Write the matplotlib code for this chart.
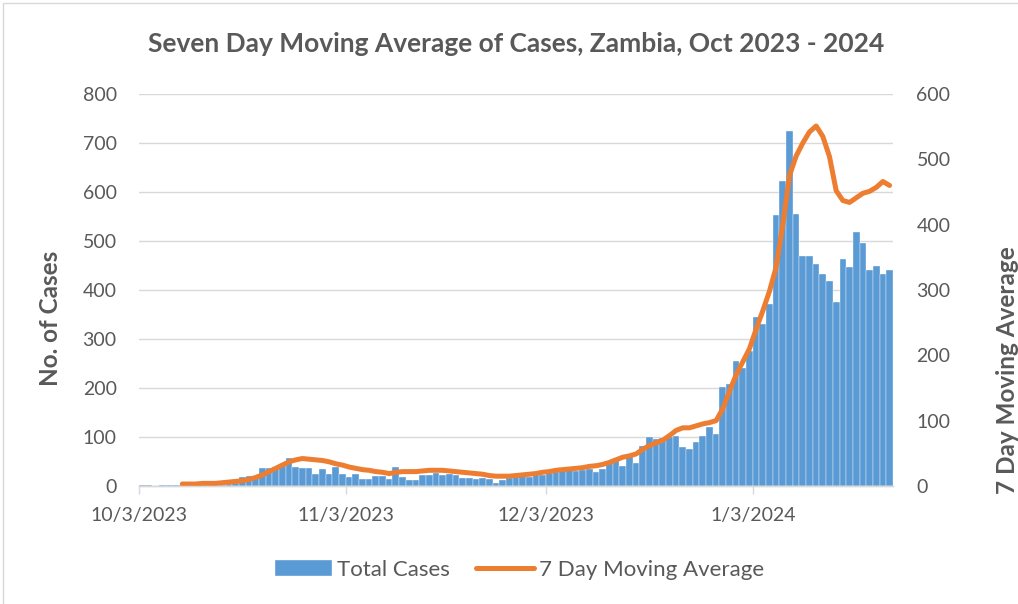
import matplotlib
matplotlib.use("Agg")
import matplotlib.pyplot as plt
import matplotlib.patches as mpatches
import pandas as pd

# colours (Excel default theme)
BLUE = '#5B9BD5'
ORANGE = '#ED7D31'
TEXT = '#595959'
GRID = '#D9D9D9'

plt.rcParams['font.family'] = ['Lato', 'DejaVu Sans']

# daily data, 10/3/2023 .. 1/23/2024
start_date = '2023-10-03'
n_days = 113

total_cases = [
    1, 1, 0, 2, 1, 2, 1, 2, 2, 1, 2, 2, 3, 4, 6,
    18, 20, 20, 37, 37, 38, 40, 58, 39, 36, 36, 24, 34, 24, 38,
    24, 18, 24, 14, 14, 20, 20, 14, 38, 19, 12, 12, 22, 22, 26,
    22, 24, 22, 17, 17, 14, 16, 15, 7, 12, 16, 18, 20, 18, 24,
    22, 26, 28, 30, 32, 30, 33, 34, 28, 35, 46, 58, 41, 60, 46,
    82, 99, 95, 98, 100, 102, 80, 75, 90, 103, 121, 106, 201, 208, 255,
    240, 275, 344, 330, 371, 554, 622, 725, 556, 469, 469, 453, 433, 419, 375,
    463, 447, 518, 495, 440, 449, 433, 440,
]

# 7 day moving average, first value on day 7 (10/9/2023)
ma_offset = 6
moving_avg = [
    3, 3, 3, 4, 4, 4, 5, 6, 7,
    8, 10, 13, 17, 22, 27, 32, 37, 40, 42, 41, 40, 39, 37, 34, 32,
    29, 27, 25, 24, 22, 21, 19, 21, 22, 22, 22, 23, 24, 24, 24, 23,
    22, 21, 20, 19, 18, 16, 15, 15, 15, 16, 17, 18, 19, 21, 22, 24,
    25, 26, 27, 28, 30, 31, 33, 36, 40, 44, 46, 49, 56, 62, 66, 70,
    77, 85, 89, 89, 92, 95, 97, 100, 118, 145, 170, 190, 210, 240,
    268, 298, 335, 400, 475, 505, 525, 542, 551, 535, 504, 452, 437,
    434, 441, 448, 451, 457, 466, 460,
]

tick_dates = ['2023-10-03', '2023-11-03', '2023-12-03', '2024-01-03']
left_ticks = list(range(0, 801, 100))
right_ticks = list(range(0, 601, 100))

dates = pd.date_range(start_date, periods=n_days, freq='D')
ma_dates = dates[ma_offset:] + pd.Timedelta(hours=12)

fig = plt.figure(figsize=(10.18, 6.04), dpi=100, facecolor='white')
ax1 = fig.add_axes([0.1365, 0.1954, 0.7406, 0.649])
ax2 = ax1.twinx()

ax1.bar(dates, total_cases, width=1.0, align='edge', color=BLUE,
        edgecolor='white', linewidth=0.25, zorder=2, label='Total Cases')
ax2.plot(ma_dates, moving_avg, color=ORANGE, linewidth=3.6,
         solid_capstyle='round', solid_joinstyle='round',
         label='7 Day Moving Average')

ax1.set_xlim(dates[0], dates[-1] + pd.Timedelta(days=1))
ax1.set_ylim(0, 800)
ax2.set_ylim(0, 600)
ax1.set_yticks(left_ticks)
ax2.set_yticks(right_ticks)

xt = pd.to_datetime(tick_dates)
ax1.set_xticks(xt)
ax1.set_xticklabels([f'{d.month}/{d.day}/{d.year}' for d in xt])

ax1.grid(axis='y', color=GRID, linewidth=1.0, zorder=0)
ax1.set_axisbelow(True)

for ax in (ax1, ax2):
    for side in ('top', 'left', 'right'):
        ax.spines[side].set_visible(False)
    ax.spines['bottom'].set_color(GRID)
    ax.spines['bottom'].set_linewidth(1.0)
    ax.tick_params(axis='y', length=0, labelsize=14, labelcolor=TEXT)

ax1.tick_params(axis='y', pad=16)
ax2.tick_params(axis='y', pad=17)
ax1.tick_params(axis='x', length=6, width=1, color=GRID,
                labelsize=14, labelcolor=TEXT, pad=9)

# axis titles
fig.text(50 / 1018, 1 - 318 / 604, 'No. of Cases', rotation=90,
         ha='center', va='center', fontsize=17.5, fontweight='bold', color=TEXT)
fig.text(996 / 1018, 1 - 370 / 604, '7 Day Moving Average', rotation=90,
         ha='left', va='center', fontsize=17.5, fontweight='bold', color=TEXT)

fig.text(0.507, 1 - 44 / 604, 'Seven Day Moving Average of Cases, Zambia, Oct 2023 - 2024',
         ha='center', va='center', fontsize=19, fontweight='bold', color=TEXT)

h1, l1 = ax1.get_legend_handles_labels()
h2, l2 = ax2.get_legend_handles_labels()
fig.legend(h1 + h2, l1 + l2, loc='center', bbox_to_anchor=(0.51, 1 - 570 / 604),
           ncol=2, frameon=False, fontsize=16, labelcolor=TEXT,
           handlelength=2.6, handleheight=0.75, handletextpad=0.2,
           columnspacing=1.2)

# chart area border
fig.patches.append(mpatches.Rectangle((3 / 1018, -0.05), 1.2, 1 - 3 / 604 + 0.05,
                                      transform=fig.transFigure, fill=False,
                                      edgecolor=GRID, linewidth=1.0))

fig.savefig('out.png', dpi=100, facecolor='white')
